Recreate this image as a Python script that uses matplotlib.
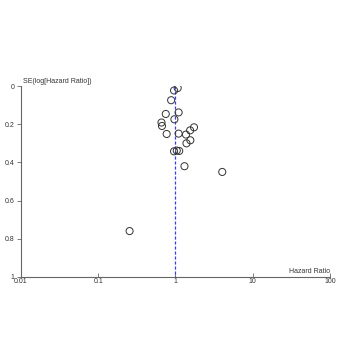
import numpy as np
import matplotlib
matplotlib.use("Agg")
import matplotlib.pyplot as plt

# study estimates
hazard_ratio = [1.07, 0.96, 0.88, 0.75, 1.10, 0.97, 0.66, 0.67, 0.77, 1.10,
                1.74, 1.55, 1.37, 1.56, 1.39, 0.96, 1.04, 1.12, 1.31, 4.04, 0.255]
se_log_hr = [0.010, 0.023, 0.074, 0.146, 0.138, 0.174, 0.191, 0.209, 0.251, 0.249,
             0.216, 0.232, 0.254, 0.284, 0.300, 0.342, 0.338, 0.340, 0.420, 0.450, 0.760]
pooled = 1.0
x_ticks = [0.01, 0.1, 1, 10, 100]
x_tick_labels = ["0.01", "0.1", "1", "10", "100"]
y_ticks = [0, 0.2, 0.4, 0.6, 0.8, 1]
y_tick_labels = ["0", "0.2", "0.4", "0.6", "0.8", "1"]

plt.rcParams['font.family'] = ['Liberation Sans', 'DejaVu Sans']

fig = plt.figure(figsize=(3.38, 3.5), dpi=100)
ax = fig.add_axes([0.062, 0.209, 0.914, 0.545])

ax.scatter(hazard_ratio, se_log_hr, s=26, facecolors="none",
           edgecolors="#333333", linewidths=0.7, zorder=3)
ax.plot([pooled, pooled], [0, 1], color="#3b3bf0", lw=0.9, ls=(0, (2.5, 1.5)), zorder=2)

ax.set_xscale("log")
ax.set_xlim(0.01, 100)
ax.set_ylim(1, 0)
ax.set_xticks(x_ticks)
ax.set_xticklabels(x_tick_labels)
ax.xaxis.set_minor_locator(matplotlib.ticker.NullLocator())
ax.set_yticks(y_ticks)
ax.set_yticklabels(y_tick_labels)

for s in ["top", "right"]:
    ax.spines[s].set_visible(False)
for s in ["left", "bottom"]:
    ax.spines[s].set_color("#666666")
    ax.spines[s].set_linewidth(0.8)

ax.tick_params(axis="x", direction="in", length=3, width=0.6, colors="#666666",
               labelsize=5, labelcolor="#333333", pad=1)
ax.tick_params(axis="y", direction="out", length=3, width=0.6, colors="#666666",
               labelsize=5, labelcolor="#333333", pad=1.5)

ax.text(0.0107, -0.008, "SE(log[Hazard Ratio])", fontsize=5, color="#333333",
        ha="left", va="bottom")
ax.text(100, 0.99, "Hazard Ratio", fontsize=5, color="#333333",
        ha="right", va="bottom")

fig.savefig("out.png", dpi=100)
